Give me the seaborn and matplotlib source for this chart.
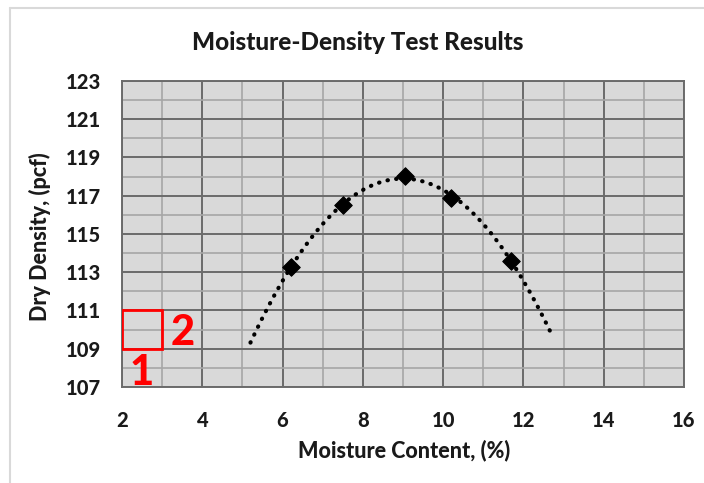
import numpy as np
import pandas as pd
import matplotlib
matplotlib.use("Agg")
import matplotlib.pyplot as plt
import seaborn as sns
from matplotlib.patches import Rectangle
from matplotlib.lines import Line2D

# ---- data ----
moisture = [6.2, 7.5, 9.05, 10.2, 11.7]
density = [113.25, 116.5, 118.05, 116.9, 113.6]
trend_start = 5.2
trend_end = 12.7
x_ticks = [2, 4, 6, 8, 10, 12, 14, 16]
y_ticks = [107, 109, 111, 113, 115, 117, 119, 121, 123]
box_x = [2, 3]
box_y = [109, 111]
label_1 = "1"
label_2 = "2"

sns.set_theme(style="white")
plt.rcParams['font.family'] = ['Lato', 'DejaVu Sans']
W = "black"
TXT = "#1a1a1a"

fig = plt.figure(figsize=(7.04, 4.83), dpi=100)
ax = fig.add_axes([0.1733, 0.1988, 0.7983, 0.6335])
ax.set_facecolor("#d9d9d9")

df = pd.DataFrame({"x": moisture, "y": density})
coef = np.polyfit(df["x"], df["y"], 2)
tx = np.linspace(trend_start, trend_end, 200)
trend = pd.DataFrame({"x": tx, "y": np.polyval(coef, tx)})

sns.lineplot(data=trend, x="x", y="y", ax=ax, color="black", lw=3.0,
             linestyle=(0, (0.1, 2.0)), dash_capstyle="round", zorder=3)
sns.scatterplot(data=df, x="x", y="y", ax=ax, marker="D", s=80,
                color="black", edgecolor="black", zorder=4)

ax.set_xlim(2, 16)
ax.set_ylim(107, 123)
ax.set_xticks(x_ticks)
ax.set_yticks(y_ticks)
ax.set_xticks(np.arange(2, 17, 1), minor=True)
ax.set_yticks(np.arange(107, 124, 1), minor=True)
ax.grid(which="minor", color="#a6a6a6", lw=1.2, zorder=0)
ax.grid(which="major", color="#6b6b6b", lw=1.4, zorder=1)
ax.set_axisbelow(True)
for s in ax.spines.values():
    s.set_color("#6b6b6b")
    s.set_linewidth(1.4)
ax.tick_params(which="both", length=0)
ax.tick_params(axis="x", pad=17)
ax.tick_params(axis="y", pad=15)
for lab in ax.get_xticklabels() + ax.get_yticklabels():
    lab.set_fontweight(W)
    lab.set_fontsize(14.5)
    lab.set_color(TXT)

ax.set_xlabel("Moisture Content, (%)", fontsize=15.5, fontweight=W, color=TXT)
ax.set_ylabel("Dry Density, (pcf)", fontsize=15.5, fontweight=W, color=TXT)
ax.xaxis.set_label_coords((404 - 122) / 562, (387 - 450) / 306)
ax.yaxis.set_label_coords((40 - 122) / 562, (387 - 237) / 306)
ax.xaxis.label.set_va("center")
ax.yaxis.label.set_va("center")
fig.text(358 / 704, 1 - 42 / 483, "Moisture-Density Test Results",
         ha="center", va="center", fontsize=17.5, fontweight=W, color=TXT)

ax.add_patch(Rectangle((box_x[0], box_y[0]), box_x[1] - box_x[0],
                       box_y[1] - box_y[0], fill=False, ec="#ff0000",
                       lw=2, zorder=5))
ax.text(2.5, 107.75, label_1, color="#ff0000", fontsize=30,
        fontweight=W, ha="center", va="center", zorder=6)
ax.text(3.52, 109.8, label_2, color="#ff0000", fontsize=30,
        fontweight=W, ha="center", va="center", zorder=6)

# outer frame
fig.add_artist(Line2D([10 / 704, 1], [1 - 8 / 483, 1 - 8 / 483],
                      color="#d9d9d9", lw=1.5, transform=fig.transFigure))
fig.add_artist(Line2D([10 / 704, 10 / 704], [0, 1 - 8 / 483],
                      color="#d9d9d9", lw=1.5, transform=fig.transFigure))

fig.savefig("out.png", dpi=100)
